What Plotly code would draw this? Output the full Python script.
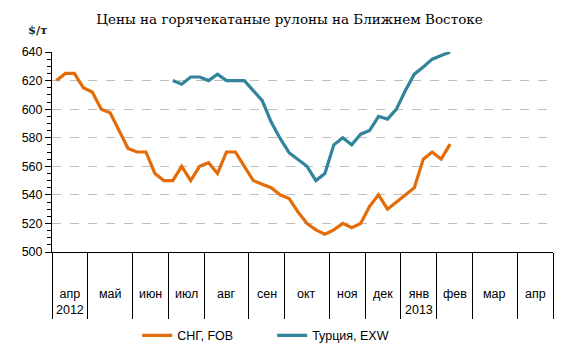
import plotly.graph_objects as go

# ---- data ----
months = ["апр", "май", "июн", "июл", "авг", "сен", "окт", "ноя", "дек", "янв", "фев", "мар", "апр"]
years = ["2012", "", "", "", "", "", "", "", "", "2013", "", "", ""]
weeks_in_month = [4, 5, 4, 4, 5, 4, 5, 4, 4, 4, 4, 5, 4]

cis_fob = [620, 625, 625, 615, 612, 600, 597.5, 585, 572.5, 570, 570, 555, 550, 550,
           560, 550, 560, 562.5, 555, 570, 570, 560, 550, 547.5, 545, 540, 537.5, 528,
           520, 515.5, 512.5, 515.5, 520, 517, 520, 532, 540, 530, 535, 540, 545, 565,
           570, 565, 575.5]
turkey_start_week = 13
turkey_exw = [620, 617.5, 622.5, 622.5, 620, 624.5, 620, 620, 620, 613, 606, 591, 579.5,
              569.5, 565, 560, 550, 555, 575, 580, 575, 582.5, 585, 595, 593, 600, 613,
              624.5, 629.5, 635, 637.5, 640]

y_ticks = [500, 520, 540, 560, 580, 600, 620, 640]

# ---- derived positions ----
boundaries = [-0.5]
for w in weeks_in_month:
    boundaries.append(boundaries[-1] + w)
centers = [(boundaries[i] + boundaries[i + 1]) / 2 for i in range(len(months))]

x_cis = list(range(len(cis_fob)))
x_tur = [turkey_start_week + i for i in range(len(turkey_exw))]

ORANGE = "#E36C09"
TEAL = "#31849B"
FONT = "Liberation Sans"

fig = go.Figure()
fig.add_trace(go.Scatter(x=x_cis, y=cis_fob, mode="lines", name="СНГ, FOB",
                         line=dict(color=ORANGE, width=3.2)))
fig.add_trace(go.Scatter(x=x_tur, y=turkey_exw, mode="lines", name="Турция, EXW",
                         line=dict(color=TEAL, width=3.2)))

annotations = []
for c, m, yr in zip(centers, months, years):
    txt = m if not yr else f"{m}<br>{yr}"
    annotations.append(dict(x=c, y=-0.165, xref="x", yref="paper", text=txt,
                            showarrow=False, yanchor="top", xanchor="center",
                            font=dict(family=FONT, size=12.5, color="#000")))
annotations.append(dict(x=-0.005, y=1.065, xref="paper", yref="paper", text="<b>$/т</b>",
                        showarrow=False, xanchor="right", yanchor="bottom",
                        font=dict(family="DejaVu Serif", size=11.5, color="#222")))

fig.update_layout(
    width=579, height=352,
    margin=dict(l=52, r=26, t=52, b=100, autoexpand=False),
    paper_bgcolor="white", plot_bgcolor="white",
    title=dict(text="Цены на горячекатаные рулоны на Ближнем Востоке",
               x=0.5, xanchor="center", y=0.945, yanchor="middle",
               font=dict(family="DejaVu Serif", size=13.5, color="#000")),
    showlegend=True,
    legend=dict(orientation="h", x=0.17, xanchor="left",
                yref="container", y=0.046, yanchor="middle",
                font=dict(family=FONT, size=12.5, color="#000"),
                entrywidth=90, itemwidth=30, tracegroupgap=0),
    annotations=annotations,
    xaxis=dict(range=[boundaries[0], boundaries[-1]], tickvals=boundaries,
               showticklabels=False, ticks="outside", ticklen=66, tickwidth=1,
               tickcolor="black", showline=True, linecolor="black", linewidth=1,
               showgrid=False, zeroline=False, fixedrange=True, automargin=False),
    yaxis=dict(range=[500, 640], tickvals=y_ticks, ticks="outside", ticklen=6,
               tickcolor="black", showline=True, linecolor="black", linewidth=1,
               showgrid=True, gridcolor="#BFBFBF", griddash="dash", gridwidth=1,
               zeroline=False, tickfont=dict(family=FONT, size=12.5, color="#000"),
               automargin=False,
               minor=dict(dtick=5, ticks="outside", ticklen=4, tickcolor="black",
                          showgrid=False)),
)

fig.write_html("out.html")
